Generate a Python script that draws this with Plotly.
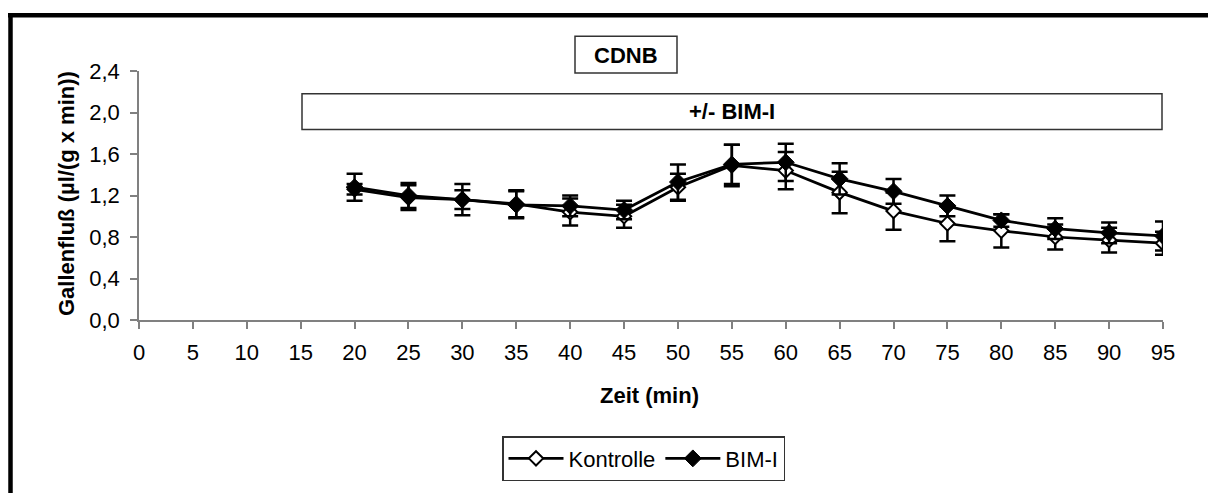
import plotly.graph_objects as go

zeit = [20, 25, 30, 35, 40, 45, 50, 55, 60, 65, 70, 75, 80, 85, 90, 95]
kontrolle = [1.26, 1.18, 1.16, 1.12, 1.04, 1.00, 1.28, 1.49, 1.44, 1.23, 1.05, 0.93, 0.86, 0.80, 0.77, 0.74]
kontrolle_err = [0.05, 0.12, 0.15, 0.13, 0.13, 0.11, 0.13, 0.20, 0.18, 0.20, 0.18, 0.17, 0.16, 0.12, 0.12, 0.11]
bim = [1.28, 1.20, 1.16, 1.11, 1.10, 1.06, 1.33, 1.50, 1.52, 1.36, 1.24, 1.10, 0.96, 0.88, 0.84, 0.81]
bim_err = [0.13, 0.12, 0.09, 0.13, 0.10, 0.09, 0.17, 0.19, 0.18, 0.15, 0.12, 0.10, 0.06, 0.10, 0.10, 0.14]
x_ticks = list(range(0, 100, 5))
y_ticks = [0.0, 0.4, 0.8, 1.2, 1.6, 2.0, 2.4]

FONT = "Liberation Sans, Arial, sans-serif"

fig = go.Figure()
fig.add_trace(go.Scatter(
    x=zeit, y=kontrolle, name="Kontrolle", mode="lines+markers",
    line=dict(color="black", width=2.75),
    marker=dict(symbol="diamond", size=11, color="white", line=dict(color="black", width=2)),
    error_y=dict(type="data", array=kontrolle_err, visible=True, color="black", thickness=2.5, width=8),
))
fig.add_trace(go.Scatter(
    x=zeit, y=bim, name="BIM-I", mode="lines+markers",
    line=dict(color="black", width=2.75),
    marker=dict(symbol="diamond", size=13, color="black", line=dict(color="black", width=1)),
    error_y=dict(type="data", array=bim_err, visible=True, color="black", thickness=2.5, width=8),
))

# body margin is removed below, so screen coords = figure coords
W, H = 1208, 493
L, R, T, B = 139, 45, 71, 171
pw, ph = W - L - R, H - T - B

def px(sx):
    return (sx - L) / pw

def py(sy):
    return (H - B - sy) / ph

shapes = [
    # outer thick frame (left and top edges visible)
    dict(type="line", xref="paper", yref="paper", x0=px(10.5), x1=px(10.5), y0=py(12.5), y1=py(600),
         line=dict(color="black", width=4.5)),
    dict(type="line", xref="paper", yref="paper", x0=px(8), x1=px(1300), y0=py(14.7), y1=py(14.7),
         line=dict(color="black", width=4.5)),
    # CDNB box
    dict(type="rect", xref="paper", yref="paper", x0=px(575), x1=px(677), y0=py(36), y1=py(73),
         line=dict(color="#333333", width=1.5), fillcolor="white"),
    # +/- BIM-I box
    dict(type="rect", xref="paper", yref="paper", x0=px(302), x1=px(1162), y0=py(94), y1=py(130),
         line=dict(color="#333333", width=1.5), fillcolor="white"),
]

annotations = [
    dict(text="<b>CDNB</b>", xref="paper", yref="paper", x=px(626), y=py(55), showarrow=False,
         font=dict(family=FONT, size=22, color="black"), xanchor="center", yanchor="middle"),
    dict(text="<b>+/- BIM-I</b>", xref="paper", yref="paper", x=px(732), y=py(112), showarrow=False,
         font=dict(family=FONT, size=22, color="black"), xanchor="center", yanchor="middle"),
    dict(text="<b>Zeit (min)</b>", xref="paper", yref="paper", x=px(649), y=py(398), showarrow=False,
         font=dict(family=FONT, size=22, color="black"), xanchor="center", yanchor="middle"),
    dict(text="<b>Gallenfluß (µl/(g x min))</b>", xref="paper", yref="paper", x=px(66), y=py(195),
         showarrow=False, textangle=-90,
         font=dict(family=FONT, size=22, color="black"), xanchor="center", yanchor="middle"),
]

fig.update_layout(
    width=W, height=H,
    margin=dict(l=L, r=R, t=T, b=B, pad=0),
    paper_bgcolor="white", plot_bgcolor="white",
    separators=",.",
    font=dict(family=FONT, size=22, color="black"),
    shapes=shapes, annotations=annotations,
    showlegend=True,
    legend=dict(orientation="h", x=px(502), y=py(439), xanchor="left", yanchor="top",
                bordercolor="#333333", borderwidth=1.5, bgcolor="white",
                font=dict(family=FONT, size=22, color="black"),
                itemwidth=55, tracegroupgap=0),
)
fig.update_xaxes(
    range=[0, 95], tickmode="array", tickvals=x_ticks, ticktext=[str(v) for v in x_ticks],
    showgrid=False, zeroline=False, showline=True, linecolor="#808080", linewidth=1.5,
    ticks="outside", ticklen=7, tickcolor="#808080", tickwidth=1.5, ticklabelstandoff=5,
    tickfont=dict(family=FONT, size=22, color="black"),
)
fig.update_yaxes(
    range=[0, 2.4], tickmode="array", tickvals=y_ticks, tickformat=".1f",
    showgrid=False, zeroline=False, showline=True, linecolor="#808080", linewidth=1.5,
    ticks="outside", ticklen=7, tickcolor="#808080", tickwidth=1.5, ticklabelstandoff=6,
    tickfont=dict(family=FONT, size=22, color="black"),
)

fig.write_html(
    "out.html",
    config={"displayModeBar": False},
    post_script="document.body.style.margin='0';document.body.style.overflow='hidden';"
                "document.documentElement.style.overflow='hidden';",
)
